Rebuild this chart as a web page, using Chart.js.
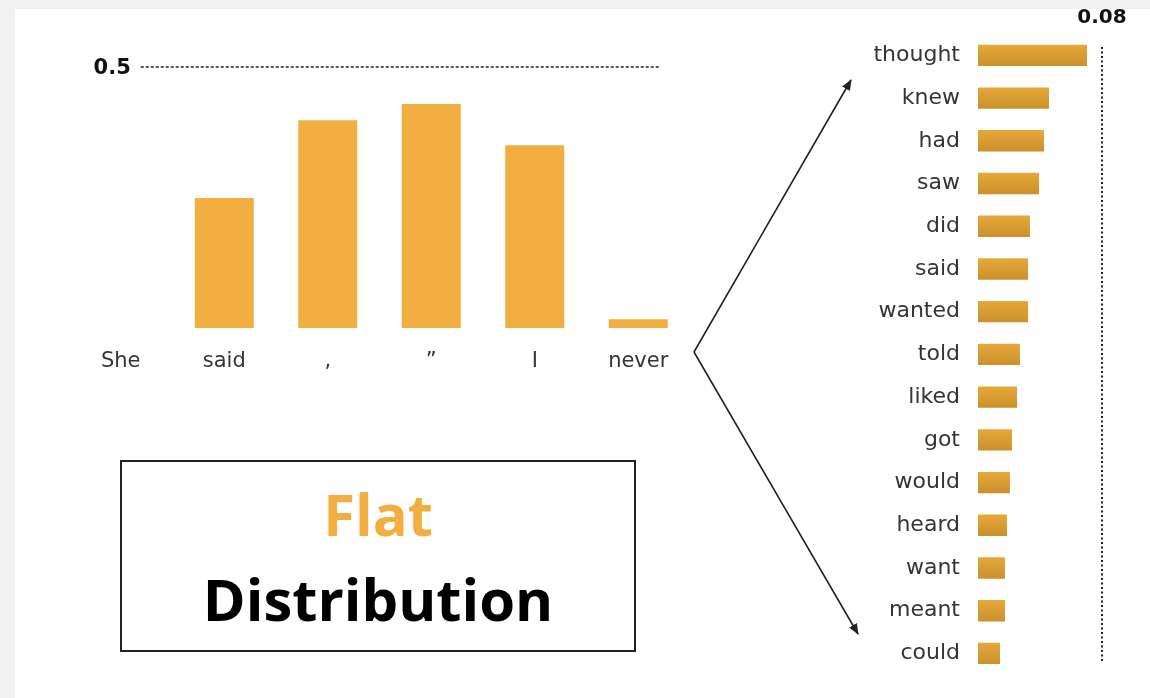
<!DOCTYPE html>
<html>
<head>
<meta charset="utf-8">
<script src="https://cdn.jsdelivr.net/npm/chart.js@4"></script>
<style>
  html, body { margin: 0; padding: 0; }
  body { width: 1150px; height: 698px; background: #f1f1f1; position: relative; overflow: hidden; }
  #panel { position: absolute; left: 15px; top: 9px; right: 0; bottom: 0; background: #fff; }
  .wrap { position: absolute; }
  #leftWrap { left: 0; top: 0; width: 720px; height: 400px; }
  #rightWrap { left: 840px; top: 0; width: 310px; height: 698px; }
  #box {
    position: absolute; left: 120px; top: 460px; width: 512px; height: 188px;
    border: 2px solid #222; background: #fff;
    font-family: "Open Sans", Lato, sans-serif; font-weight: 700; text-align: center;
    font-variant-ligatures: none;
  }
  #box .flat { color: #f2ae40; font-size: 58px; line-height: 58px; margin-top: 23px; }
  #box .dist { color: #000; font-size: 58px; line-height: 58px; margin-top: 27px; }
  #arrows { position: absolute; left: 0; top: 0; }
</style>
</head>
<body>
<div id="panel"></div>
<div class="wrap" id="leftWrap"><canvas id="tokenChart"></canvas></div>
<div class="wrap" id="rightWrap"><canvas id="nextChart"></canvas></div>
<div id="box"><div class="flat">Flat</div><div class="dist">Distribution</div></div>
<svg id="arrows" width="1150" height="698">
  <defs>
    <marker id="head" markerWidth="11" markerHeight="9" refX="10" refY="4.5" orient="auto" markerUnits="userSpaceOnUse">
      <path d="M0,0 L11,4.5 L0,9 Z" fill="#222"/>
    </marker>
  </defs>
  <line x1="694" y1="352" x2="851" y2="80" stroke="#222" stroke-width="1.6" marker-end="url(#head)"/>
  <line x1="694" y1="352" x2="858" y2="634" stroke="#222" stroke-width="1.6" marker-end="url(#head)"/>
</svg>

<script>
// Tokens of the sentence and the probability of each one
const tokens = ['She', 'said', ',', '”', 'I', 'never'];
const tokenProbs = [null, 0.249, 0.398, 0.429, 0.35, 0.017];
const tokenMax = 0.5;

// Candidates for the word after "never"
const nextWords = ['thought', 'knew', 'had', 'saw', 'did', 'said', 'wanted', 'told',
  'liked', 'got', 'would', 'heard', 'want', 'meant', 'could'];
const nextProbs = [0.0703, 0.0458, 0.0426, 0.0394, 0.0335, 0.0323, 0.0323, 0.0271,
  0.0252, 0.0219, 0.0206, 0.0187, 0.0174, 0.0174, 0.0142];
const nextMax = 0.08;

const labelColor = '#353535';

// Dashed reference line at the top of the token chart
const topLinePlugin = {
  id: 'topLine',
  afterDraw(chart) {
    const ctx = chart.ctx;
    const x = chart.scales.x;
    const y = chart.scales.y.getPixelForValue(tokenMax);
    ctx.save();
    ctx.strokeStyle = '#222';
    ctx.lineWidth = 1.4;
    ctx.setLineDash([3, 2]);
    ctx.beginPath();
    ctx.moveTo(x.getPixelForValue(0) + 20, y);
    ctx.lineTo(x.getPixelForValue(5) + 21, y);
    ctx.stroke();
    ctx.setLineDash([]);
    ctx.fillStyle = '#111';
    ctx.font = 'bold 21px "DejaVu Sans"';
    ctx.textAlign = 'right';
    ctx.textBaseline = 'middle';
    ctx.fillText(String(tokenMax), x.getPixelForValue(0) + 10, y + 2);
    ctx.restore();
  }
};

// Dotted vertical line marking the max of the next-word chart
const maxLinePlugin = {
  id: 'maxLine',
  afterDraw(chart) {
    const ctx = chart.ctx;
    const x = chart.scales.x.getPixelForValue(nextMax);
    const area = chart.chartArea;
    ctx.save();
    ctx.strokeStyle = '#222';
    ctx.lineWidth = 2;
    ctx.setLineDash([2, 2.5]);
    ctx.beginPath();
    ctx.moveTo(x, area.top + 13);
    ctx.lineTo(x, area.bottom - 12);
    ctx.stroke();
    ctx.setLineDash([]);
    ctx.fillStyle = '#111';
    ctx.font = 'bold 20px "DejaVu Sans"';
    ctx.textAlign = 'center';
    ctx.textBaseline = 'middle';
    ctx.fillText(String(nextMax), x, 18);
    ctx.restore();
  }
};

new Chart(document.getElementById('tokenChart'), {
  type: 'bar',
  data: {
    labels: tokens,
    datasets: [{
      data: tokenProbs,
      backgroundColor: '#f2ae40',
      barPercentage: 0.57,
      categoryPercentage: 1
    }]
  },
  options: {
    responsive: true,
    maintainAspectRatio: false,
    animation: false,
    layout: { padding: { left: 69, right: 30, top: 67, bottom: 20 } },
    plugins: { legend: { display: false }, tooltip: { enabled: false } },
    scales: {
      x: {
        grid: { display: false },
        border: { display: false },
        ticks: { font: { family: 'DejaVu Sans', size: 21 }, color: labelColor, padding: 13 },
        afterFit: s => { s.height = 52; }
      },
      y: { display: false, min: 0, max: tokenMax }
    }
  },
  plugins: [topLinePlugin]
});

new Chart(document.getElementById('nextChart'), {
  type: 'bar',
  data: {
    labels: nextWords,
    datasets: [{
      data: nextProbs,
      // each bar shades from light gold on top to a darker gold below
      backgroundColor: ctx => {
        const chart = ctx.chart;
        const ys = chart.scales && chart.scales.y;
        const y = ys ? ys.getPixelForValue(ctx.dataIndex) : NaN;
        if (!Number.isFinite(y)) return '#dca136';
        const g = chart.ctx.createLinearGradient(0, y - 11, 0, y + 11);
        g.addColorStop(0, '#e8a83a');
        g.addColorStop(1, '#c9902c');
        return g;
      },
      barPercentage: 0.5,
      categoryPercentage: 1
    }]
  },
  options: {
    indexAxis: 'y',
    responsive: true,
    maintainAspectRatio: false,
    animation: false,
    layout: { padding: { left: 0, right: 48, top: 34, bottom: 20 } },
    plugins: { legend: { display: false }, tooltip: { enabled: false } },
    scales: {
      x: { display: false, min: 0, max: nextMax },
      y: {
        grid: { display: false },
        border: { display: false },
        ticks: { font: { family: 'DejaVu Sans', size: 22 }, color: labelColor, padding: 10 },
        afterFit: s => { s.width = 138; }
      }
    }
  },
  plugins: [maxLinePlugin]
});
</script>
</body>
</html>
